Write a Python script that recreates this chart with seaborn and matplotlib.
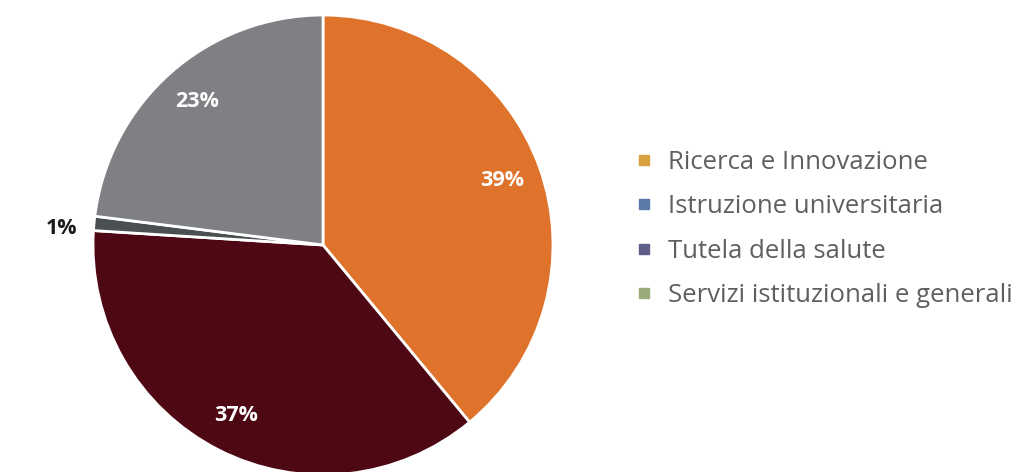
import matplotlib
matplotlib.use("Agg")
import matplotlib.pyplot as plt
from matplotlib.lines import Line2D
import numpy as np
import seaborn as sns

# Spending breakdown by mission
categories = ["Ricerca e Innovazione", "Istruzione universitaria",
              "Tutela della salute", "Servizi istituzionali e generali"]
shares = [39, 37, 1, 23]
pct_labels = ["39%", "37%", "1%", "23%"]

slice_colors = ["#E0732B", "#4D0814", "#4A5052", "#7E8084"]
legend_colors = ["#D9A040", "#5A7AA8", "#5E5E88", "#9AAA78"]

sns.set_theme(style="white")
plt.rcParams["font.family"] = ["Open Sans", "DejaVu Sans"]

W, H = 1021, 472
fig = plt.figure(figsize=(W / 100, H / 100), dpi=100)
fig.patch.set_facecolor("white")

cx, cy, r = 323, 245, 230
ax = fig.add_axes([(cx - r) / W, (H - cy - r) / H, 2 * r / W, 2 * r / H])

wedges, _ = ax.pie(shares, colors=slice_colors, startangle=90, counterclock=False,
                   wedgeprops=dict(edgecolor="white", linewidth=2.0))
ax.set_xlim(-1, 1)
ax.set_ylim(-1, 1)
ax.set_aspect("equal")
ax.axis("off")

for w, lab, val in zip(wedges, pct_labels, shares):
    if val >= 5:
        ang = np.deg2rad((w.theta1 + w.theta2) / 2)
        d = 0.83
        ax.text(d * np.cos(ang), d * np.sin(ang), lab, ha="center", va="center",
                color="white", fontsize=15.5, fontweight="bold", clip_on=False)
    else:
        # small slice: label sits just outside the rim
        ang = np.deg2rad(w.theta2)
        d = 1.14
        ax.text(d * np.cos(ang), d * np.sin(ang), lab, ha="center", va="center",
                color="#1a1a1a", fontsize=15.5, fontweight="bold", clip_on=False)

handles = [Line2D([0], [0], marker="s", linestyle="none", markersize=7.5,
                  markerfacecolor=c, markeredgecolor=c) for c in legend_colors]
leg = fig.legend(handles, categories, loc="center left",
                 bbox_to_anchor=(631 / W, 1 - 229 / H), frameon=False,
                 fontsize=18.5, labelcolor="#5f5f5f", handletextpad=0.45,
                 labelspacing=0.76, handlelength=1.0, borderpad=0,
                 borderaxespad=0)

fig.savefig("out.png", dpi=100, facecolor="white")
